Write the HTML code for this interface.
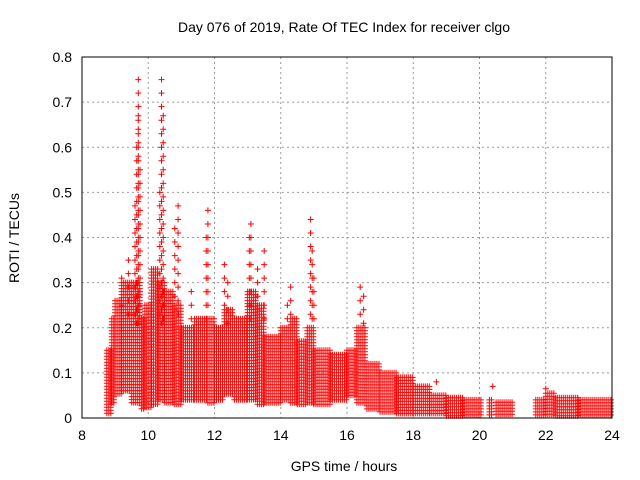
<!DOCTYPE html>
<html><head><meta charset="utf-8"><style>
body{margin:0;background:#fff}
svg{display:block;font-family:"Liberation Sans",sans-serif}
</style></head><body>
<svg id="chart" width="640" height="480" viewBox="0 0 640 480">
<rect width="640" height="480" fill="#fff"/>
<text x="344" y="32" font-size="14" text-anchor="middle">Day 076 of 2019, Rate Of TEC Index for receiver clgo</text>
<text x="344" y="471" font-size="14" text-anchor="middle">GPS time / hours</text>
<text transform="translate(19,238) rotate(-90)" font-size="14" text-anchor="middle">ROTI / TECUs</text>
<g id="grid"></g><g id="ticks"></g><g id="marks"></g>
<rect x="82" y="57" width="530" height="361" fill="none" stroke="#000"/>
</svg>
<script>
const binStart=[8.75,8.9,9.0,9.2,9.5,9.8,9.9,10.1,10.3,10.5,10.8,11.0,11.4,11.8,12.0,12.3,12.6,13.0,13.3,13.5,14.0,14.3,14.5,14.8,15.0,15.5,16.0,16.3,16.6,17.0,17.5,18.0,18.5,19.0,19.5,20.3,20.5,21.7,22.0,22.3,23.0];
const binEnd  =[8.9,9.0,9.2,9.5,9.8,9.9,10.1,10.3,10.5,10.8,11.0,11.4,11.8,12.0,12.3,12.6,13.0,13.3,13.5,14.0,14.3,14.5,14.8,15.0,15.5,16.0,16.3,16.6,17.0,17.5,18.0,18.5,19.0,19.5,20.1,20.4,21.0,22.0,22.3,23.0,24.0];
const binLow  =[0.01,0.03,0.05,0.06,0.03,0.02,0.02,0.03,0.04,0.03,0.03,0.04,0.04,0.03,0.04,0.05,0.04,0.04,0.03,0.03,0.04,0.03,0.03,0.03,0.03,0.04,0.05,0.03,0.02,0.01,0.01,0.01,0.01,0.005,0.005,0.005,0.005,0.005,0.005,0.005,0.005];
const binHigh =[0.15,0.22,0.26,0.3,0.3,0.22,0.25,0.33,0.3,0.28,0.25,0.2,0.22,0.22,0.2,0.24,0.22,0.28,0.25,0.18,0.2,0.22,0.17,0.2,0.15,0.14,0.15,0.2,0.12,0.1,0.09,0.07,0.05,0.045,0.04,0.04,0.035,0.04,0.055,0.045,0.04];
const spikeTime=[9.7,9.7,9.65,9.6,9.75,10.4,10.45,10.4,10.35,10.9,10.8,11.8,11.75,12.3,12.4,13.1,13.05,13.5,14.3,14.2,14.9,14.95,15.0,16.4,16.5,18.7,20.4,22.0,9.2,9.4,11.3,13.3];
const spikeVal =[0.75,0.67,0.6,0.47,0.55,0.75,0.67,0.57,0.5,0.47,0.42,0.46,0.4,0.34,0.3,0.43,0.4,0.37,0.29,0.25,0.44,0.37,0.31,0.29,0.27,0.08,0.07,0.065,0.31,0.35,0.28,0.33];
const xTicks=[8,10,12,14,16,18,20,22,24];
const yTicks=[0,0.1,0.2,0.3,0.4,0.5,0.6,0.7,0.8];
const X=h=>82+(h-8)/16*530, Y=v=>418-v/0.8*361;
const ns="http://www.w3.org/2000/svg";
const grid=document.getElementById('grid'),ticks=document.getElementById('ticks'),marks=document.getElementById('marks');
function mk(tag,a,p){const e=document.createElementNS(ns,tag);for(const k in a)e.setAttribute(k,a[k]);p.appendChild(e);return e;}
xTicks.forEach(t=>{
 const g=mk('line',{x1:X(t),x2:X(t),y1:57,y2:418,stroke:'#999','stroke-dasharray':'2,3','stroke-width':1},grid);
 
 
 const l=mk('text',{x:X(t),y:440,'font-size':14,'text-anchor':'middle'},ticks);l.textContent=t;
 
 
});
yTicks.forEach(t=>{
 const g=mk('line',{x1:82,x2:612,y1:Y(t),y2:Y(t),stroke:'#999','stroke-dasharray':'2,3','stroke-width':1},grid);
 
 
 const l=mk('text',{x:72,y:Y(t)+5,'font-size':14,'text-anchor':'end'},ticks);l.textContent=t===0?'0':t.toFixed(1);
 
 
});
let d='';
const plus=(x,y)=>{d+=`M${(x-3).toFixed(1)} ${y.toFixed(1)}h6M${x.toFixed(1)} ${(y-3).toFixed(1)}v6`;};
for(let i=0;i<binStart.length;i++){
 const x0=X(binStart[i]),x1=X(binEnd[i]),y0=Y(binHigh[i]),y1=Y(binLow[i]);
 for(let x=x0;x<=x1;x+=2)for(let y=y0;y<=y1;y+=3)plus(x,y);
}
spikeTime.forEach((t,i)=>{const x=X(t);for(let v=spikeVal[i];v>0.2;v-=0.03)plus(x,Y(v));plus(x,Y(spikeVal[i]));});
const p=mk('path',{d:d,stroke:'#f00','stroke-width':1,fill:'none'},marks);


</script>
</body></html>
